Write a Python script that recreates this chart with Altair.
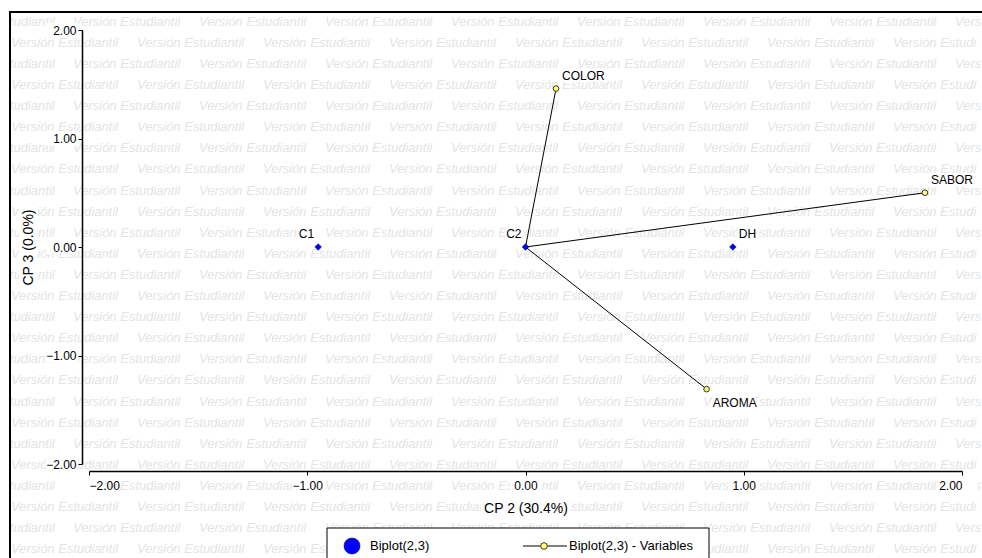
import altair as alt
import pandas as pd

# Observations (CP 2, CP 3 scores)
obs_names = ["C1", "C2", "DH"]
obs_x = [-0.95, 0.00, 0.95]
obs_y = [0.00, 0.00, 0.00]

# Variables (biplot vectors from the origin)
var_names = ["COLOR", "SABOR", "AROMA"]
var_x = [0.14, 1.83, 0.83]
var_y = [1.46, 0.50, -1.31]

axis_ticks = [-2.0, -1.0, 0.0, 1.0, 2.0]
x_title = "CP 2 (30.4%)"
y_title = "CP 3 (0.0%)"
legend_labels = ["Biplot(2,3)", "Biplot(2,3) - Variables"]
watermark_text = "Versión Estudiantil"

FONT = "Liberation Sans"
W, H = 873, 434           # plot area
LEFT, TOP = 89, 30        # plot origin inside the page
PAGE_W = 982

obs = pd.DataFrame({"name": obs_names, "x": obs_x, "y": obs_y})
var = pd.DataFrame({"name": var_names, "x": var_x, "y": var_y})
var["x0"] = 0.0
var["y0"] = 0.0

# Arial-metric advance widths (em units) for the watermark characters
ADV = {"V": .667, "e": .556, "r": .333, "s": .5, "i": .222, "ó": .556,
       "n": .556, " ": .278, "E": .667, "t": .278, "u": .556, "d": .556,
       "a": .556, "l": .222}
WM_SIZE = 13


def visible_part(start):
    """Characters of the watermark that fall inside the frame, and where they begin."""
    pos, first, chars = start, None, []
    for ch in watermark_text:
        w = ADV[ch] * WM_SIZE
        if pos >= 9.5 and pos + w <= PAGE_W + 1:
            if first is None:
                first = pos
            chars.append(ch)
        pos += w
    return first, "".join(chars).strip()


# Background watermark grid (pixel positions relative to the plot origin)
wm_rows = []
for k in range(26):
    yy = 21.7 + 21.1 * k
    xx = (73 if k % 2 == 0 else 11) - 126
    while xx < PAGE_W:
        first, txt = visible_part(xx)
        if txt:
            wm_rows.append({"px": first - LEFT, "py": yy - TOP, "t": txt})
        xx += 126
wm = pd.DataFrame(wm_rows)

one = pd.DataFrame({"k": [0]})
ticks = pd.DataFrame({"v": axis_ticks})

xs = alt.Scale(domain=[-2, 2], nice=False, zero=False)
ys = alt.Scale(domain=[-2, 2], nice=False, zero=False)

watermark = alt.Chart(wm).mark_text(
    font=FONT, fontSize=WM_SIZE, fontStyle="italic", color="#e4e4e4",
    align="left", baseline="middle"
).encode(
    x=alt.X("px:Q", scale=None, axis=None),
    y=alt.Y("py:Q", scale=None, axis=None),
    text="t:N",
)

# White patches behind the axis labels and titles
ytick_bg = alt.Chart(ticks).mark_rect(color="white", height=14).encode(
    x=alt.value(46 - LEFT), x2=alt.value(78 - LEFT),
    y=alt.Y("v:Q", scale=ys),
)
xtick_bg = alt.Chart(ticks).mark_rect(color="white", width=31).encode(
    x=alt.X("v:Q", scale=xs),
    y=alt.value(479 - TOP), y2=alt.value(494 - TOP),
)
xtitle_bg = alt.Chart(one).mark_rect(color="white").encode(
    x=alt.value(481 - LEFT), x2=alt.value(570 - LEFT),
    y=alt.value(499 - TOP), y2=alt.value(517 - TOP),
)
ytitle_bg = alt.Chart(one).mark_rect(color="white").encode(
    x=alt.value(19 - LEFT), x2=alt.value(37 - LEFT),
    y=alt.value(205 - TOP), y2=alt.value(287 - TOP),
)

frame = alt.Chart(one).mark_rect(
    fillOpacity=0, stroke="black", strokeWidth=2
).encode(
    x=alt.value(10 - LEFT), x2=alt.value(1000 - LEFT),
    y=alt.value(12 - TOP), y2=alt.value(600 - TOP),
)

vectors = alt.Chart(var).mark_rule(color="black", strokeWidth=1).encode(
    x=alt.X("x0:Q", scale=xs,
            axis=alt.Axis(values=axis_ticks, format=".2f", title=x_title,
                          offset=7, tickSize=4, labelPadding=5, zindex=2,
                          titleX=W / 2, titleY=37, titleBaseline="middle",
                          titleAlign="center")),
    y=alt.Y("y0:Q", scale=ys,
            axis=alt.Axis(values=axis_ticks, format=".2f", title=y_title,
                          offset=7, tickSize=4, labelPadding=2, zindex=2,
                          titleX=-54, titleY=H / 2, titleAngle=270,
                          titleAlign="center", titleBaseline="middle")),
    x2="x:Q",
    y2="y:Q",
)

var_pts = alt.Chart(var).mark_point(
    shape="circle", filled=True, size=32, fill="#ffff70",
    stroke="#333333", strokeWidth=1, opacity=1
).encode(x=alt.X("x:Q", scale=xs), y=alt.Y("y:Q", scale=ys))

obs_pts = alt.Chart(obs).mark_point(
    shape="diamond", filled=True, size=45, fill="#0000ff",
    stroke="#000080", strokeWidth=0.5, opacity=1
).encode(x=alt.X("x:Q", scale=xs), y=alt.Y("y:Q", scale=ys))


def labels(df, names, align, dx, dy):
    """Point labels with a white halo so the watermark does not run through them."""
    base = alt.Chart(df).transform_filter(
        alt.FieldOneOfPredicate(field="name", oneOf=names)
    ).encode(x=alt.X("x:Q", scale=xs), y=alt.Y("y:Q", scale=ys), text="name:N")
    style = dict(font=FONT, fontSize=12, baseline="middle", align=align, dx=dx, dy=dy)
    halo = base.mark_text(color="white", stroke="white", strokeWidth=5,
                          strokeJoin="round", **style)
    text = base.mark_text(color="black", **style)
    return [halo, text]


label_layers = (
    labels(var, ["COLOR", "SABOR"], "left", 6, -13)
    + labels(var, ["AROMA"], "left", 6, 14)
    + labels(obs, ["C1", "C2"], "right", -4, -13)
    + labels(obs, ["DH"], "left", 6, -13)
)

# Legend box drawn below the axes
LY = 546 - TOP
leg_box = alt.Chart(one).mark_rect(
    fill="white", stroke="black", strokeWidth=1
).encode(
    x=alt.value(327 - LEFT), x2=alt.value(709 - LEFT),
    y=alt.value(528 - TOP), y2=alt.value(600 - TOP),
)
leg_dot = alt.Chart(one).mark_point(
    shape="circle", filled=True, size=260, fill="#0000ff",
    stroke="#000060", strokeWidth=0.5, opacity=1
).encode(x=alt.value(352 - LEFT), y=alt.value(LY))
leg_line = alt.Chart(one).mark_rule(color="black", strokeWidth=1).encode(
    x=alt.value(523 - LEFT), x2=alt.value(567 - LEFT), y=alt.value(LY))
leg_ring = alt.Chart(one).mark_point(
    shape="circle", filled=True, size=45, fill="#ffff70",
    stroke="#333333", strokeWidth=1, opacity=1
).encode(x=alt.value(544 - LEFT), y=alt.value(LY))
leg_df = pd.DataFrame({"label": legend_labels, "lx": [370 - LEFT, 569 - LEFT]})
leg_text = alt.Chart(leg_df).mark_text(
    font=FONT, fontSize=13, color="black", align="left", baseline="middle"
).encode(
    x=alt.X("lx:Q", scale=None, axis=None),
    y=alt.value(LY),
    text="label:N",
)

chart = alt.layer(
    watermark, ytick_bg, xtick_bg, xtitle_bg, ytitle_bg, frame,
    vectors, var_pts, obs_pts,
    *label_layers,
    leg_box, leg_dot, leg_line, leg_ring, leg_text,
).properties(
    width=W, height=H,
    autosize=alt.AutoSizeParams(type="none"),
    padding={"left": LEFT, "top": TOP, "right": PAGE_W - LEFT - W, "bottom": 558 - TOP - H},
    background="white",
).configure_view(
    strokeWidth=0
).configure_axis(
    domainColor="black", domainWidth=1.5, tickColor="black", tickWidth=1,
    labelColor="black", labelFont=FONT, labelFontSize=12,
    titleColor="black", titleFont=FONT, titleFontSize=14, titleFontWeight="normal",
    grid=False,
)

chart.save("out.html", embed_options={"renderer": "svg", "actions": False})
